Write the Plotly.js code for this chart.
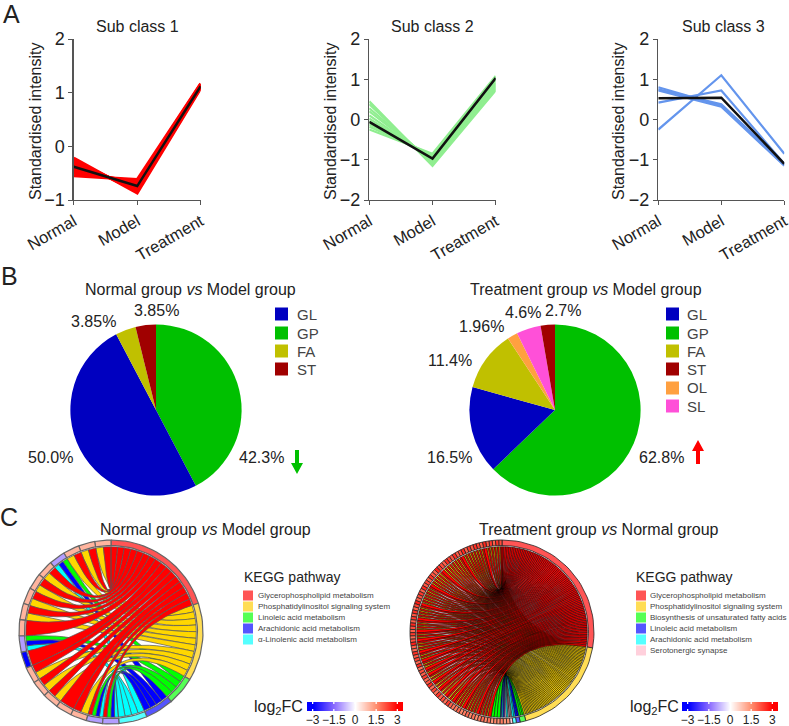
<!DOCTYPE html>
<html><head><meta charset="utf-8">
<script src="https://cdn.plot.ly/plotly-3.0.1.min.js"></script>
<style>html,body{margin:0;padding:0;background:#fff}#c{width:789px;height:726px}</style>
</head><body><div id="c"></div>
<script>
const W=789,H=726;
const groups=['Normal','Model','Treatment'];
const sub1Lines=[[-0.22,-0.87,1.08],[-0.26,-0.84,1.1],[-0.3,-0.8,1.11],[-0.34,-0.77,1.12],[-0.38,-0.74,1.13],[-0.42,-0.71,1.14],[-0.46,-0.68,1.15],[-0.5,-0.65,1.16],[-0.55,-0.62,1.17]];
const sub1Mean=[-0.38,-0.74,1.12];
const sub2Lines=[[0.45,-1.15,0.72],[0.38,-1.1,0.76],[0.28,-1.05,0.8],[0.2,-1.02,0.84],[0.1,-1,0.88],[0.02,-0.98,0.92],[-0.05,-0.95,0.97],[-0.12,-0.92,1.01],[-0.18,-0.88,1.05],[-0.25,-0.85,1.08]];
const sub2Mean=[-0.06,-0.97,1.03];
const sub3Lines=[[-0.25,1.1,-0.85],[0.42,0.72,-1.1],[0.8,0.35,-1.13],[0.75,0.38,-1.1],[0.72,0.32,-1.15]];
const sub3Mean=[0.53,0.54,-1.1];
const pieLeftLabels=['GP','GL','FA','ST'];
const pieLeftValues=[42.3,50.0,3.85,3.85];
const pieRightLabels=['GP','GL','FA','OL','SL','ST'];
const pieRightValues=[62.8,16.5,11.4,1.96,4.6,2.7];
const lipidColors={GL:'#0000C0',GP:'#00C000',FA:'#C0C000',ST:'#A00000',OL:'#FFA040',SL:'#FF50D8'};
const pieLeftText=[['3.85%',93,322],['3.85%',156,310],['50.0%',50,457],['42.3%',261,457]];
const pieRightText=[['4.6%',523,312],['2.7%',563,311],['1.96%',481,327],['11.4%',450,360],['16.5%',449,457],['62.8%',661,457]];
const keggLeft=['Glycerophospholipid metabolism','Phosphatidylinositol signaling system','Linoleic acid metabolism','Arachidonic acid metabolism','α-Linolenic acid metabolism'];
const keggRight=['Glycerophospholipid metabolism','Phosphatidylinositol signaling system','Biosynthesis of unsaturated fatty acids','Linoleic acid metabolism','Arachidonic acid metabolism','Serotonergic synapse'];
// chord memberships, listed from the top of the circle going anticlockwise
const leftCodes=['R','Y','G','B','C'];
const leftDrawOrder=['C','B','G','Y','R'];
const leftGenes=['RY','RY','RY','GBC','RY','RY','RY','RY','R','GBC','R','RY','RY','RY','R','RY','RGBC','RGBC'];
const leftFC=[1,1,1,-1,1,1,1,1,1,-1,-3,1,1,1,1,1,-1,-1];
const rightCodes=['R','Y','G','B','C','P'];
const rightDrawOrder=['P','C','B','G','Y','R'];
const rightSpans=[100,65,3.6,2.4,2.2,1.8];
const rightGenes=['RY','RY','RY','RY','RY','R','RY','RY','RY','RY',
'RY','RY','RY','R','RY','RY','RY','RY','RY','RY',
'RY','R','RY','RY','RY','RY','RY','R','RY','RY',
'RY','RY','RY','RY','R','RY','RY','RY','RY','R',
'RY','RY','RY','R','RY','RY','R','RY','RY','RY',
'R','RY','RY','R','RY','RY','R','RY','R','RY',
'RY','R','RY','RY','R','RY','RY','R','RY','RY',
'R','RY','RY','RY','R','RY','RY','RY','RY','R',
'RY','RY','RY','R',
'G','G','G','BC','BP','CP'];
const rightFC=[2.2,2.5,2.0,2.4,2.1,2.6,2.0,2.3,2.5,2.1,2.4,2.0,2.6,2.2,2.0,2.5,2.1,2.3,2.6,2.0,
2.2,2.4,2.7,2.0,2.1,2.5,2.0,2.3,2.1,2.6,2.0,2.4,2.2,2.0,2.7,2.3,2.0,2.5,2.1,2.4,
2.0,2.6,2.2,2.0,2.4,1.9,2.2,2.7,2.0,1.9,2.5,2.1,2.3,1.9,2.6,1.8,2.2,2.0,2.4,1.9,
2.1,2.6,1.9,2.3,1.8,2.5,2.0,2.2,1.8,2.4,2.0,1.8,1.7,1.9,1.6,1.7,1.9,1.6,1.8,1.5,
1.7,1.9,1.6,1.8,1.4,1.6,1.5,1.7,1.4,1.5];
const ringColors={R:'#FF5555',Y:'#FFDD55',G:'#55FF55',B:'#5555FF',C:'#55FFFF',P:'#FFD0DC'};
const ribbonColors={R:'#FF0000',Y:'#FFD700',G:'#00FF00',B:'#0000FF',C:'#00FFFF',P:'#FFC0CB'};
const fcTicks=[-3,-1.5,0,1.5,3];
const fcLabels=['−3','−1.5','0','1.5','3'];
const fcGradient=[-3.4,-3,-2.5,-2,-1.5,-1,-0.5,0,0.5,1,1.5,2,2.5,3,3.4];
const fcStops=[[-3,[0,0,255]],[-1.5,[140,108,255]],[0,[255,255,255]],[1.5,[255,142,110]],[3,[255,0,0]]];

const dx=(a,b)=>[a/W,b/W], dy=(t,b)=>[1-b/H,1-t/H];
const px=x=>x/W, py=y=>1-y/H;
function fcColor(v){v=Math.max(-3,Math.min(3,v));
  for(let i=0;i<fcStops.length-1;i++){const [a,ca]=fcStops[i],[b,cb]=fcStops[i+1];
    if(v<=b){const t=(v-a)/(b-a);return 'rgb('+ca.map((c,k)=>Math.round(c+(cb[k]-c)*t)).join(',')+')';}}
}
const traces=[],annotations=[],shapes=[];
function note(text,x,y,size,opt){annotations.push(Object.assign({text,x:px(x),y:py(y),xref:'paper',yref:'paper',showarrow:false,font:{size,color:'#222'},xanchor:'center',yanchor:'middle'},opt||{}));}

const layout={width:W,height:H,margin:{l:0,r:0,t:0,b:0},paper_bgcolor:'#fff',plot_bgcolor:'rgba(0,0,0,0)',showlegend:false,
  font:{family:'"Liberation Sans",Arial,sans-serif',color:'#222'},annotations,shapes};

// Panel A
const lineBoxes=[[73.7,200.7,[-1,2],[-1,0,1,2],35,sub1Lines,sub1Mean,'#FF0000',3,137.5,'Sub class 1'],
                 [369.3,495.7,[-2,2],[-2,-1,0,1,2],330,sub2Lines,sub2Mean,'#90EE90',2.2,433,'Sub class 2'],
                 [658.3,784.3,[-2,2],[-2,-1,0,1,2],618,sub3Lines,sub3Mean,'#6495ED',2.2,723,'Sub class 3']];
lineBoxes.forEach((b,i)=>{
  const n=i===0?'':String(i+1);
  layout['xaxis'+n]={domain:dx(b[0],b[1]),anchor:'y'+n,type:'category',categoryorder:'array',categoryarray:groups,range:[0,2],
    showline:true,linecolor:'#555',linewidth:1.4,ticks:'outside',ticklen:4,tickcolor:'#555',tickangle:-30,tickfont:{size:16.5,color:'#222'},showgrid:false,zeroline:false};
  layout['yaxis'+n]={domain:dy(39,200),anchor:'x'+n,range:b[2],tickvals:b[3],ticktext:b[3].map(v=>String(v).replace('-','−')),
    showline:true,linecolor:'#555',linewidth:1.4,ticks:'outside',ticklen:4,tickcolor:'#555',tickfont:{size:18,color:'#222'},showgrid:false,zeroline:false};
  b[5].forEach(v=>traces.push({type:'scatter',mode:'lines',x:groups,y:v,xaxis:'x'+n,yaxis:'y'+n,line:{color:b[7],width:b[8]},hoverinfo:'skip'}));
  traces.push({type:'scatter',mode:'lines',x:groups,y:b[6],xaxis:'x'+n,yaxis:'y'+n,line:{color:'#111',width:2.5},hoverinfo:'skip'});
  note(b[10],b[9],27,16);
  note('Standardised intensity',b[4],122,16,{textangle:-90});
});
note('A',11,14,25);note('B',9,276,25);note('C',9,517,25);

// Panel B
function pie(labels,values,cx,cy,r){traces.push({type:'pie',labels,values,sort:false,direction:'clockwise',rotation:0,textinfo:'none',hoverinfo:'label+percent',
  marker:{colors:labels.map(l=>lipidColors[l]),line:{width:0}},domain:{x:dx(cx-r,cx+r),y:dy(cy-r,cy+r)},automargin:false});}
pie(pieLeftLabels,pieLeftValues,156,410,85.6);
pie(pieRightLabels,pieRightValues,555,410,85.6);
pieLeftText.concat(pieRightText).forEach(t=>note(t[0],t[1],t[2],16));
note('Normal group <i>vs</i> Model group',190,290,16);
note('Treatment group <i>vs</i> Model group',586,290,16);
function square(x0,x1,y0,y1,c){shapes.push({type:'rect',xref:'paper',yref:'paper',x0:px(x0),x1:px(x1),y0:py(y1),y1:py(y0),fillcolor:c,line:{width:0},layer:'above'});}
const lipidRows=[314,333,351,369,388,406];
['GL','GP','FA','ST'].forEach((l,i)=>{square(275,288,lipidRows[i]-6.5,lipidRows[i]+6.5,lipidColors[l]);note(l,295,lipidRows[i],15,{xanchor:'left',font:{size:15,color:'#444'}});});
['GL','GP','FA','ST','OL','SL'].forEach((l,i)=>{square(666,679,lipidRows[i]-6.5,lipidRows[i]+6.5,lipidColors[l]);note(l,685,lipidRows[i],15,{xanchor:'left',font:{size:15,color:'#444'}});});
function arrow(x,yTail,yTip,c){const s=yTip>yTail?-1:1,neck=yTip+s*11;
  const p=[[x-2,yTail],[x+2,yTail],[x+2,neck],[x+6,neck],[x,yTip],[x-6,neck],[x-2,neck]];
  shapes.push({type:'path',xref:'paper',yref:'paper',path:'M'+p.map(q=>px(q[0])+','+py(q[1])).join('L')+'Z',fillcolor:c,line:{width:0},layer:'above'});}
arrow(297,450,474,'#00C000');
arrow(698,464,440,'#FF0000');

// Panel C
const pol=(r,deg)=>{const a=deg*Math.PI/180;return [r*Math.sin(a),r*Math.cos(a)];};
function arc(r,a,b,n){const o=[];for(let i=0;i<=n;i++)o.push(pol(r,a+(b-a)*i/n));return o;}
function bez(p0,p2,n){const o=[];for(let i=1;i<n;i++){const t=i/n,k=(1-t)*(1-t),m=t*t;o.push([k*p0[0]+m*p2[0],k*p0[1]+m*p2[1]]);}return o;}
function poly(pts,xa,ya,fill,lc,lw){traces.push({type:'scatter',mode:'lines',x:pts.map(p=>p[0]).concat(pts[0][0]),y:pts.map(p=>p[1]).concat(pts[0][1]),
  xaxis:xa,yaxis:ya,fill:'toself',fillcolor:fill,line:{color:lc,width:lw},hoverinfo:'skip'});}
function chord(genes,fc,codes,order,span,spans,xa,ya,ribLine,ribW,ringLine,ringW){
  const Ro=92,Ri=86.5,Rr=85.3;
  const counts={};codes.forEach(c=>counts[c]=0);
  genes.forEach(g=>g.split('').forEach(c=>counts[c]++));
  const total=codes.reduce((s,c)=>s+counts[c],0);
  const start={},w={};let a=0;codes.forEach((c,i)=>{const sw=spans?spans[i]:counts[c]*span/total;start[c]=a;w[c]=sw/counts[c];a+=sw;});
  const geneSpan=360-a;
  const cursor=Object.assign({},start),gw=geneSpan/genes.length,links={};
  codes.forEach(c=>links[c]=[]);
  genes.forEach((g,i)=>{const top=360-i*gw,lw=gw/g.length;
    g.split('').forEach((c,j)=>{const b2=top-j*lw,b1=b2-lw,a1=cursor[c],a2=a1+w[c];cursor[c]=a2;links[c].push([a1,a2,b1,b2]);});
  });
  order.forEach(c=>links[c].forEach(l=>{
    const A=arc(Rr,l[0],l[1],3),B=arc(Rr,l[2],l[3],3);
    poly(A.concat(bez(A[3],B[0],22),B,bez(B[3],A[0],22)),xa,ya,ribbonColors[c],ribLine,ribW);
  }));
  const cell=(s,e,col)=>{const n=Math.max(2,Math.ceil((e-s)/3));poly(arc(Ro,s,e,n).concat(arc(Ri,e,s,n)),xa,ya,col,ringLine,ringW);};
  codes.forEach(c=>cell(start[c],start[c]+counts[c]*w[c],ringColors[c]));
  genes.forEach((g,i)=>cell(360-(i+1)*gw,360-i*gw,fcColor(fc[i])));
}
function chordAxes(n,cx){layout['xaxis'+n]={domain:dx(cx-94,cx+94),anchor:'y'+n,range:[-94,94],visible:false};
  layout['yaxis'+n]={domain:dy(632-94,632+94),anchor:'x'+n,range:[-94,94],visible:false};}
chordAxes(4,111);chordAxes(5,502);
chord(leftGenes,leftFC,leftCodes,leftDrawOrder,175,null,'x4','y4','#555',0.7,'#666',1.2);
chord(rightGenes,rightFC,rightCodes,rightDrawOrder,0,rightSpans,'x5','y5','#000',0.5,'#222',0.8);
note('Normal group <i>vs</i> Model group',206,529,16);
note('Treatment group <i>vs</i> Normal group',599,529,16);
function kegg(items,codes,sx,tx,titleX){note('KEGG pathway',titleX,577,14,{xanchor:'left'});
  items.forEach((t,i)=>{const y=595.5+i*11;square(sx,sx+10,y-5,y+5,ringColors[codes[i]]);note(t,tx,y,8,{xanchor:'left',font:{size:8,color:'#444'}});});}
kegg(keggLeft,leftCodes,243,256,242);
kegg(keggRight,rightCodes,636,648,634);
function fcBar(n,x0,x1,labelX){
  layout['xaxis'+n]={domain:dx(x0,x1),anchor:'y'+n,range:[-3.4,3.4],tickmode:'array',tickvals:fcTicks,ticktext:fcLabels,tickangle:0,ticks:'',ticklen:0,showline:false,showgrid:false,zeroline:false,tickfont:{size:12,color:'#222'}};
  layout['yaxis'+n]={domain:dy(702,711),anchor:'x'+n,range:[-0.5,0.5],visible:false};
  traces.push({type:'heatmap',x:fcGradient,y:[0],z:[fcGradient],zmin:-3,zmax:3,zsmooth:'best',showscale:false,xaxis:'x'+n,yaxis:'y'+n,hoverinfo:'skip',
    colorscale:fcStops.map(s=>[(s[0]+3)/6,'rgb('+s[1].join(',')+')'])});
  fcTicks.forEach(t=>{[[0.28,0.5],[-0.5,-0.28]].forEach(r=>shapes.push({type:'line',xref:'x'+n,yref:'y'+n,x0:t,x1:t,y0:r[0],y1:r[1],line:{color:'#fff',width:1.3},layer:'above'}));});
  note('log<sub>2</sub>FC',labelX,707,16,{xanchor:'left'});
}
fcBar(6,307,403,252);
fcBar(7,682,778,628);
Plotly.newPlot('c',traces,layout,{staticPlot:true,displayModeBar:false});
</script></body></html>
